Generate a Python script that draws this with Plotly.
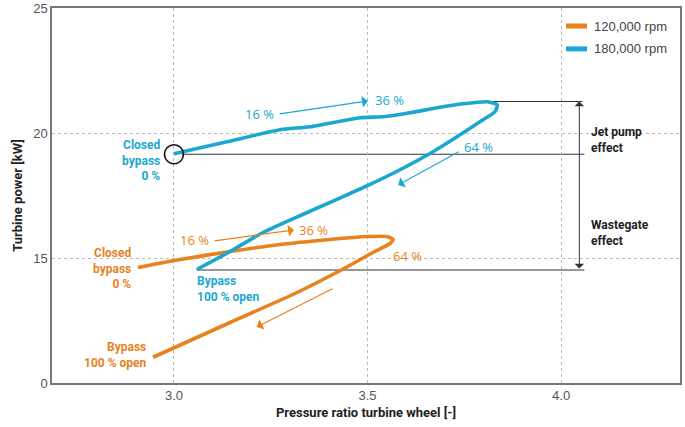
import plotly.graph_objects as go

# ---------------- data ----------------
# 180,000 rpm loop (pressure ratio, turbine power kW)
blue_x = [3.000, 3.137, 3.274, 3.351, 3.481, 3.540, 3.610, 3.680, 3.747, 3.809,
          3.835, 3.829, 3.798, 3.747, 3.669, 3.584, 3.499, 3.344, 3.230, 3.145, 3.059]
blue_y = [19.17, 19.65, 20.13, 20.25, 20.61, 20.65, 20.81, 21.01, 21.17, 21.25,
          21.13, 20.85, 20.53, 20.01, 19.25, 18.53, 17.89, 16.82, 16.02, 15.26, 14.54]
# 120,000 rpm loop
orange_x = [2.907, 3.016, 3.145, 3.274, 3.403, 3.499, 3.550, 3.566, 3.558, 3.514,
            3.432, 3.318, 3.145, 2.946]
orange_y = [14.62, 14.94, 15.26, 15.54, 15.74, 15.86, 15.86, 15.74, 15.58, 15.22,
            14.52, 13.62, 12.42, 11.03]

series_names = ["120,000 rpm", "180,000 rpm"]
x_ticks = [3.0, 3.5, 4.0]
x_ticklabels = ["3.0", "3.5", "4.0"]
y_ticks = [10, 15, 20, 25]
y_ticklabels = ["0", "15", "20", "25"]   # broken axis: lower segment compressed

# reference levels (kW)
jet_top = 21.26
closed_level = 19.15
open_level = 14.52

ORANGE = "#E8821E"
BLUE = "#1BA8D0"
DARK = "#333333"
COND = "Roboto, Liberation Sans Narrow, DejaVu Sans Condensed, sans-serif"
PCT = "Open Sans, DejaVu Sans, sans-serif"

def cfont(size, color):
    return dict(family=COND, size=size, color=color, weight="bold")

fig = go.Figure()
fig.add_trace(go.Scatter(x=orange_x, y=orange_y, mode="lines", name=series_names[0],
                         line=dict(color=ORANGE, width=3.6, shape="spline", smoothing=0.6),
                         showlegend=False))
fig.add_trace(go.Scatter(x=blue_x, y=blue_y, mode="lines", name=series_names[1],
                         line=dict(color=BLUE, width=3.6, shape="spline", smoothing=0.6),
                         showlegend=False))
# circle at closed-bypass point
fig.add_trace(go.Scatter(x=[blue_x[0]], y=[closed_level], mode="markers", showlegend=False,
                         marker=dict(symbol="circle-open", size=19,
                                     line=dict(color="#111111", width=1.6), color="#111111")))

shapes = []
# reference lines
shapes.append(dict(type="line", xref="x", yref="y", x0=3.80, x1=4.055, y0=jet_top, y1=jet_top,
                   line=dict(color=DARK, width=1.1), layer="below"))
shapes.append(dict(type="line", xref="x", yref="y", x0=3.02, x1=4.06, y0=closed_level, y1=closed_level,
                   line=dict(color=DARK, width=1.1), layer="below"))
shapes.append(dict(type="line", xref="x", yref="y", x0=blue_x[-1], x1=4.06, y0=open_level, y1=open_level,
                   line=dict(color=DARK, width=1.1), layer="below"))
# manual legend swatches
for c, yy in [(ORANGE, 0.952), (BLUE, 0.891)]:
    shapes.append(dict(type="line", xref="paper", yref="paper", x0=0.8185, x1=0.852, y0=yy, y1=yy,
                       line=dict(color=c, width=5)))

ann = []
def txt(x, y, t, font, xanchor="center", align="center", yanchor="middle"):
    ann.append(dict(x=x, y=y, xref="x", yref="y", text=t, showarrow=False, font=font,
                    xanchor=xanchor, yanchor=yanchor, align=align))

def arrow(x0, y0, x1, y1, color, side="end", width=1.2):
    ann.append(dict(x=x1, y=y1, ax=x0, ay=y0, xref="x", yref="y", axref="x", ayref="y",
                    text="", showarrow=True, arrowhead=1, arrowsize=1.6, arrowwidth=width,
                    arrowcolor=color, arrowside=side, standoff=0, startstandoff=0))

def pfont(color):
    return dict(family=PCT, size=13, color=color)

# legend text
for name, yy in zip(series_names, [0.952, 0.891]):
    ann.append(dict(x=0.860, y=yy, xref="paper", yref="paper", text=name, showarrow=False,
                    xanchor="left", yanchor="middle",
                    font=dict(family="Liberation Sans, Arial, sans-serif", size=13, color="#444")))

# blue annotations
txt(3.220, 20.76, "16 %", pfont(BLUE))
arrow(3.269, 20.76, 3.501, 21.28, BLUE)
txt(3.514, 21.32, "36 %", pfont(BLUE), xanchor="left")
txt(3.786, 19.44, "64 %", pfont(BLUE))
arrow(3.739, 19.28, 3.579, 17.92, BLUE)
txt(2.969, 18.92, "Closed<br>bypass<br>0 %", cfont(12, BLUE), xanchor="right", align="right")
txt(3.054, 13.76, "Bypass<br>100 % open", cfont(12, BLUE), xanchor="left", align="left")

# orange annotations
txt(3.054, 15.72, "16 %", pfont(ORANGE))
arrow(3.101, 15.68, 3.310, 16.12, ORANGE)
txt(3.318, 16.12, "36 %", pfont(ORANGE), xanchor="left")
txt(3.602, 15.08, "64 %", pfont(ORANGE))
arrow(3.413, 13.80, 3.214, 12.24, ORANGE)
txt(2.894, 14.60, "Closed<br>bypass<br>0 %", cfont(12, ORANGE), xanchor="right", align="right")
txt(2.933, 11.12, "Bypass<br>100 % open", cfont(12, ORANGE), xanchor="right", align="right")

# effect arrow and labels
arrow(4.047, open_level, 4.047, jet_top, DARK, side="end+start", width=1.0)
txt(4.072, 19.72, "Jet pump<br>effect", cfont(12, "#222"), xanchor="left", align="left")
txt(4.072, 16.00, "Wastegate<br>effect", cfont(12, "#222"), xanchor="left", align="left")

fig.update_layout(
    width=685, height=427,
    margin=dict(l=52, r=5, t=8, b=44),
    paper_bgcolor="white", plot_bgcolor="white",
    shapes=shapes, annotations=ann,
    showlegend=False,
    xaxis=dict(range=[2.685, 4.307], tickvals=x_ticks, ticktext=x_ticklabels,
               showgrid=True, gridcolor="#BBBBBB", griddash="dot", gridwidth=1,
               showline=True, linecolor="#777777", linewidth=1.5, mirror=True,
               ticks="", zeroline=False, automargin=False,
               tickfont=dict(family="Liberation Sans, Arial, sans-serif", size=13, color="#555"),
               title=dict(text="Pressure ratio turbine wheel [-]", standoff=6,
                          font=cfont(13, "#222"))),
    yaxis=dict(range=[10, 25], tickvals=y_ticks, ticktext=y_ticklabels,
               showgrid=True, gridcolor="#BBBBBB", griddash="dot", gridwidth=1,
               showline=True, linecolor="#777777", linewidth=1.5, mirror=True,
               ticks="", zeroline=False, automargin=False,
               tickfont=dict(family="Liberation Sans, Arial, sans-serif", size=13, color="#555"),
               title=dict(text="Turbine power [kW]", standoff=8,
                          font=cfont(13, "#222"))),
)

fig.write_html("out.html", config={"displayModeBar": False},
               post_script="document.body.style.margin='0px';document.body.style.overflow='hidden';")
